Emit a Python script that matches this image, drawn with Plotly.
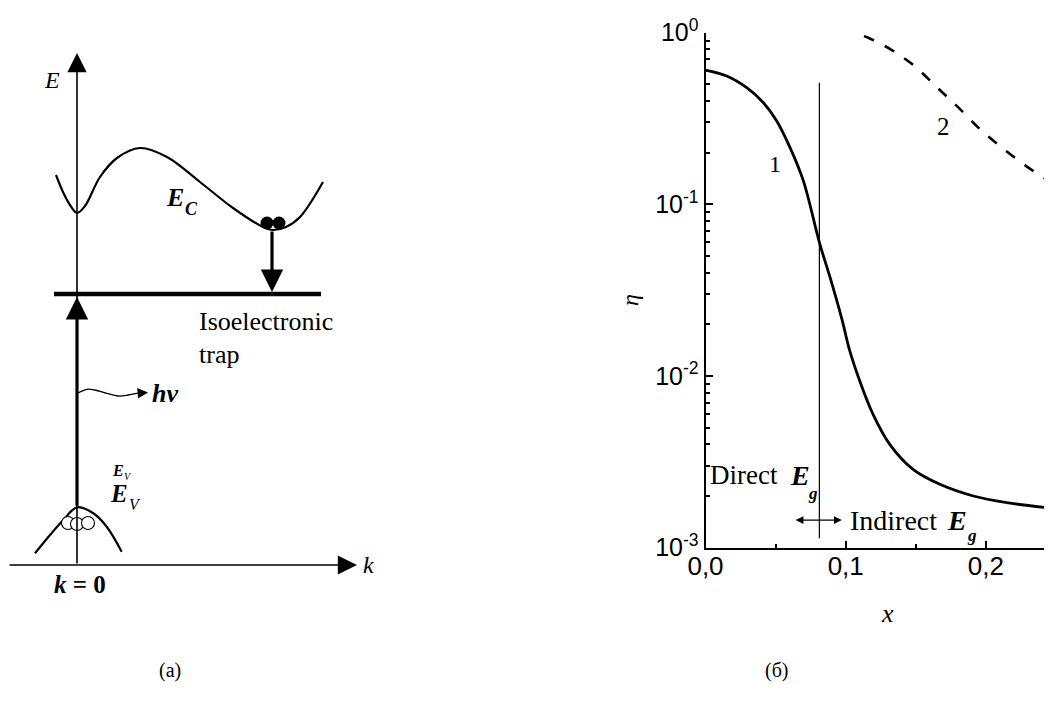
import math
import plotly.graph_objects as go

# ---------------- right panel data (eta vs x) ----------------
curve1_x = [0.0, 0.0151, 0.0294, 0.0413, 0.0508, 0.0603, 0.0698, 0.0813, 0.0889, 0.0973,
            0.1029, 0.110, 0.1195, 0.1314, 0.148, 0.1672, 0.191, 0.2148, 0.2471]
curve1_y = [0.605, 0.559, 0.478, 0.391, 0.306, 0.214, 0.137, 0.0597, 0.0374, 0.0214,
            0.0140, 0.00936, 0.00598, 0.0040, 0.00286, 0.00234, 0.0020, 0.00183, 0.00170]
curve2_x = [0.1130, 0.1160, 0.1317, 0.1488, 0.1646, 0.1797, 0.1964, 0.2121, 0.2292, 0.2435, 0.2471]
curve2_y = [0.955, 0.935, 0.803, 0.642, 0.485, 0.371, 0.271, 0.212, 0.166, 0.139, 0.132]
vline_x = [0.0812, 0.0812]
vline_y = [0.001135, 0.511]
eg_arrow_x = [0.0632, 0.0972]
eg_arrow_y = 0.001449

x_tickvals = [0.0, 0.1, 0.2]
x_ticktext = ["0,0", "0,1", "0,2"]
x_minor = [0.05, 0.15, 0.25]
y_tickvals = [1e-3, 1e-2, 1e-1, 1e0]
y_ticktext = ["10<sup>-3</sup>", "10<sup>-2</sup>", "10<sup>-1</sup>", "10<sup>0</sup>"]
y_minor = [m * 10 ** d for d in (-3, -2, -1) for m in range(2, 10)]

# ---------------- left panel data (band diagram, k / E schematic units) ----------------
ec_k = [-21, -14, -7, 0, 8, 23, 40, 63, 90, 123, 156, 186, 196, 209, 223, 246]
ec_E = [390, 373, 360, 352, 359, 388, 407, 417, 408, 383, 357, 338, 335, 338, 348, 383]
ev_k = [-42, -27, -13.7, 0, 16.3, 29.7, 44.7]
ev_E = [11.7, 30, 45, 57.7, 51.7, 38.3, 13.3]
electrons_k = [190, 202]
electrons_E = [342, 342]
holes_k = [-9, 0, 11]
holes_E = [42, 41, 42]
trap_k = [-23, 244]
trap_E = [271, 271]
wave_k = [1, 9.7, 18, 29.7, 41.3, 51.3, 59.7, 66]
wave_E = [172, 175.7, 175, 171.7, 169, 170, 171.7, 172.2]

BLACK = "black"
SERIF = "Liberation Serif, Times New Roman, serif"
SANS = "Liberation Sans, Arial, sans-serif"
W, H = 1052, 705
OFF = 8  # page body margin offset


def px(sx):
    return (sx - OFF) / W


def py(sy):
    return 1 - (sy - OFF) / H


fig = go.Figure()

# right panel traces
fig.add_trace(go.Scatter(x=curve1_x, y=curve1_y, mode="lines", line=dict(color=BLACK, width=2.8, shape="spline"),
                         xaxis="x", yaxis="y", showlegend=False))
fig.add_trace(go.Scatter(x=curve2_x, y=curve2_y, mode="lines",
                         line=dict(color=BLACK, width=2.6, dash="11px,12px", shape="spline"),
                         xaxis="x", yaxis="y", showlegend=False))
fig.add_trace(go.Scatter(x=vline_x, y=vline_y, mode="lines", line=dict(color=BLACK, width=1.2),
                         xaxis="x", yaxis="y", showlegend=False))

# left panel traces
fig.add_trace(go.Scatter(x=ec_k, y=ec_E, mode="lines", line=dict(color=BLACK, width=2.2, shape="spline"),
                         xaxis="x2", yaxis="y2", showlegend=False))
fig.add_trace(go.Scatter(x=ev_k, y=ev_E, mode="lines", line=dict(color=BLACK, width=2.2, shape="spline"),
                         xaxis="x2", yaxis="y2", showlegend=False))
fig.add_trace(go.Scatter(x=trap_k, y=trap_E, mode="lines", line=dict(color=BLACK, width=4.5),
                         xaxis="x2", yaxis="y2", showlegend=False))
fig.add_trace(go.Scatter(x=wave_k, y=wave_E, mode="lines", line=dict(color=BLACK, width=1.3, shape="spline"),
                         xaxis="x2", yaxis="y2", showlegend=False))
fig.add_trace(go.Scatter(x=electrons_k, y=electrons_E, mode="markers",
                         marker=dict(color=BLACK, size=13, line=dict(width=0)),
                         xaxis="x2", yaxis="y2", showlegend=False))
fig.add_trace(go.Scatter(x=holes_k, y=holes_E, mode="markers",
                         marker=dict(color="white", size=13, line=dict(color=BLACK, width=1.1)),
                         xaxis="x2", yaxis="y2", showlegend=False))

ann = []


def arrow(x0, y0, x1, y1, width, size, xr="x2", yr="y2", head=2, side="end"):
    ann.append(dict(x=x1, y=y1, ax=x0, ay=y0, xref=xr, yref=yr, axref=xr, ayref=yr,
                    showarrow=True, arrowhead=head, arrowsize=size, arrowwidth=width,
                    arrowcolor=BLACK, text="", arrowside=side, startarrowhead=head,
                    startarrowsize=size, standoff=0, startstandoff=0))


def label(x, y, text, size, family=SERIF, xr="x2", yr="y2", xanchor="center", angle=0):
    ann.append(dict(x=x, y=y, xref=xr, yref=yr, text=text, showarrow=False,
                    font=dict(family=family, size=size, color=BLACK),
                    xanchor=xanchor, yanchor="middle", textangle=angle))


# diagram axes
arrow(0, 0, 0, 512, 1.6, 2.4)                       # E axis
arrow(-69, 0, 280, 0, 1.6, 2.4)                     # k axis
arrow(0, ev_E[3], 0, trap_E[0] - 3, 3.2, 1.4)       # excitation arrow
arrow(195, 335, 195, trap_E[0] + 2, 3.2, 1.4)       # capture arrow
arrow(wave_k[-2], wave_E[-2], 71, 172.5, 1.3, 1.6)  # photon arrow tip

label(-25, 485, "<i>E</i>", 24)
label(291, 0, "<i>k</i>", 24)
label(3, -19, "<b><i>k</i> = 0</b>", 25)
label(98, 368, "<b><i>E</i></b>", 26)
label(114, 356, "<b><i>C</i></b>", 18)
label(120, 244, "Isoelectronic", 26, xanchor="left")
label(120, 211, "trap", 26, xanchor="left")
label(73, 172, "<b><i>h\u03bd</i></b>", 26, xanchor="left")
label(41, 95, "<b><i>E</i></b>", 16)
label(51, 89, "<i>V</i>", 10)
label(42, 72, "<b><i>E</i></b>", 25)
label(58, 61, "<i>V</i>", 16)
label(93, -105, "(a)", 20)

# right panel annotations (log10 coordinates on y)
arrow(eg_arrow_x[0], math.log10(eg_arrow_y), eg_arrow_x[1], math.log10(eg_arrow_y), 1.3, 1.2,
      xr="x", yr="y", head=2, side="end+start")
label(0.0496, -0.767, "1", 24, xr="x", yr="y")
label(0.1697, -0.544, "2", 25, xr="x", yr="y")
label(0.0015, -2.577, "Direct", 27, xr="x", yr="y", xanchor="left")
label(0.0675, -2.577, "<b><i>E</i></b>", 28, xr="x", yr="y")
label(0.0768, -2.683, "<b><i>g</i></b>", 17, xr="x", yr="y")
label(0.1017, -2.839, "Indirect", 28, xr="x", yr="y", xanchor="left")
label(0.1795, -2.839, "<b><i>E</i></b>", 28, xr="x", yr="y")
label(0.1902, -2.928, "<b><i>g</i></b>", 17, xr="x", yr="y")
label(px(887), py(613), "<i>x</i>", 26, xr="paper", yr="paper")
label(px(630), py(300), "<i>\u03b7</i>", 24, xr="paper", yr="paper", angle=-90)
label(px(777), py(670), "(\u0431)", 20, xr="paper", yr="paper")

fig.update_layout(
    width=W, height=H,
    autosize=False,
    margin=dict(l=0, r=0, t=0, b=0, pad=0, autoexpand=False),
    paper_bgcolor="white", plot_bgcolor="rgba(0,0,0,0)",
    showlegend=False,
    annotations=ann,
    xaxis=dict(domain=[px(705.5), px(1052)], range=[0, 0.2471], showgrid=False, zeroline=False,
               automargin=False,
               showline=True, linecolor=BLACK, linewidth=2, mirror=False,
               tickmode="array", tickvals=x_tickvals, ticktext=x_ticktext,
               ticks="inside", ticklen=7, tickwidth=2, tickcolor=BLACK,
               ticklabelstandoff=-6,
               tickfont=dict(family=SANS, size=26, color=BLACK),
               minor=dict(tickmode="array", tickvals=x_minor, ticks="inside", ticklen=4,
                          tickwidth=1.5, tickcolor=BLACK, showgrid=False),
               fixedrange=True),
    yaxis=dict(domain=[py(547.7), py(32.7)], type="log", range=[-3, 0],
               automargin=False,
               showgrid=False, zeroline=False, showline=True, linecolor=BLACK, linewidth=2,
               mirror=False, tickmode="array", tickvals=y_tickvals, ticktext=y_ticktext,
               ticks="inside", ticklen=7, tickwidth=2, tickcolor=BLACK,
               tickfont=dict(family=SANS, size=25, color=BLACK),
               minor=dict(tickmode="array", tickvals=y_minor, ticks="inside", ticklen=4,
                          tickwidth=1.5, tickcolor=BLACK, showgrid=False),
               fixedrange=True),
    xaxis2=dict(domain=[0, 0.4], range=[-(77 - OFF), -(77 - OFF) + 0.4 * W], visible=False,
                fixedrange=True, automargin=False),
    yaxis2=dict(domain=[0, 1], range=[(565 - OFF) - H, 565 - OFF], visible=False, fixedrange=True,
                automargin=False),
)

fig.write_html("out.html")
